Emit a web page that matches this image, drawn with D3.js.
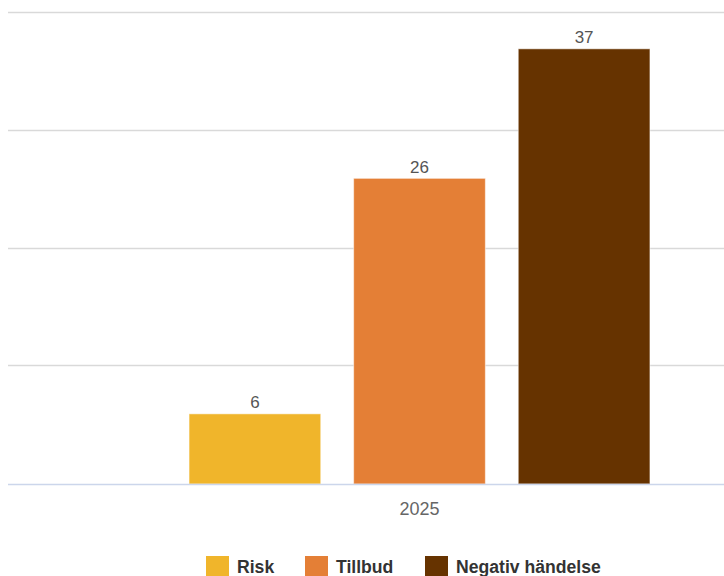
<!DOCTYPE html>
<html>
<head>
<meta charset="utf-8">
<script src="https://cdn.jsdelivr.net/npm/d3@7"></script>
<style>
  body { margin: 0; background: #fff; }
  svg { display: block; font-family: "Liberation Sans", Arial, sans-serif; }
</style>
</head>
<body>
<div class="chart"></div>
<script>
const categories = ['2025'];
const seriesNames = ['Risk', 'Tillbud', 'Negativ händelse'];
const seriesValues = [[6], [26], [37]];
const seriesColors = ['#f0b52b', '#e47f36', '#663300'];
const yTicks = [0, 10, 20, 30, 40];

const W = 724, H = 576;
const svg = d3.select('.chart')
  .append('svg')
  .attr('width', W)
  .attr('height', H);

// plot area runs past the right edge of the picture (cropped)
const plotLeft = 8, plotRight = 831;
const yScale = d3.scaleLinear().domain([0, 40]).range([484, 13]);

const x0 = d3.scaleBand().domain(categories).range([plotLeft, plotRight]).padding(0);
const groupW = x0.bandwidth();
const x1 = d3.scaleBand()
  .domain(seriesNames)
  .range([groupW * 0.2, groupW * 0.8])
  .paddingInner(0.2)
  .paddingOuter(0.1);

// grid lines
svg.selectAll('.grid-line')
  .data(yTicks.filter(d => d !== 0))
  .enter()
  .append('line')
  .attr('class', 'grid-line')
  .attr('x1', plotLeft)
  .attr('x2', W)
  .attr('y1', d => Math.round(yScale(d)) - 0.5)
  .attr('y2', d => Math.round(yScale(d)) - 0.5)
  .attr('stroke', '#d9d9d9')
  .attr('stroke-width', 1.5);

// bars
const bars = [];
seriesNames.forEach((s, i) => {
  categories.forEach((c, j) => bars.push({ series: s, cat: c, value: seriesValues[i][j], color: seriesColors[i] }));
});

svg.selectAll('.bar')
  .data(bars)
  .enter()
  .append('rect')
  .attr('class', 'bar')
  .attr('x', d => x0(d.cat) + x1(d.series))
  .attr('y', d => yScale(d.value) + 0.5)
  .attr('width', x1.bandwidth())
  .attr('height', d => yScale(0) - yScale(d.value) - 0.5)
  .attr('fill', d => d.color)
  .attr('stroke', 'rgba(255,255,255,0.5)')
  .attr('stroke-width', 1);

// value labels
svg.selectAll('.value-label')
  .data(bars)
  .enter()
  .append('text')
  .attr('class', 'value-label')
  .attr('x', d => x0(d.cat) + x1(d.series) + x1.bandwidth() / 2)
  .attr('y', d => yScale(d.value) - 5)
  .attr('text-anchor', 'middle')
  .attr('font-size', 17)
  .attr('fill', '#555')
  .text(d => d.value);

// x axis line
svg.append('line')
  .attr('x1', plotLeft)
  .attr('x2', W)
  .attr('y1', yScale(0) + 0.5)
  .attr('y2', yScale(0) + 0.5)
  .attr('stroke', '#ccd6eb')
  .attr('stroke-width', 1.5);

// x axis labels
svg.selectAll('.x-label')
  .data(categories)
  .enter()
  .append('text')
  .attr('class', 'x-label')
  .attr('x', d => x0(d) + groupW / 2)
  .attr('y', 515)
  .attr('text-anchor', 'middle')
  .attr('font-size', 18)
  .attr('fill', '#666')
  .text(d => d);

// legend
const legendX = [206, 305, 425];
const legend = svg.selectAll('.legend-item')
  .data(seriesNames)
  .enter()
  .append('g')
  .attr('class', 'legend-item')
  .attr('transform', (d, i) => `translate(${legendX[i]}, 556)`);

legend.append('rect')
  .attr('width', 23)
  .attr('height', 22)
  .attr('fill', (d, i) => seriesColors[i]);

legend.append('text')
  .attr('x', 31)
  .attr('y', 17)
  .attr('font-size', 17.6)
  .attr('font-weight', 'bold')
  .attr('fill', '#333')
  .text(d => d);
</script>
</body>
</html>
